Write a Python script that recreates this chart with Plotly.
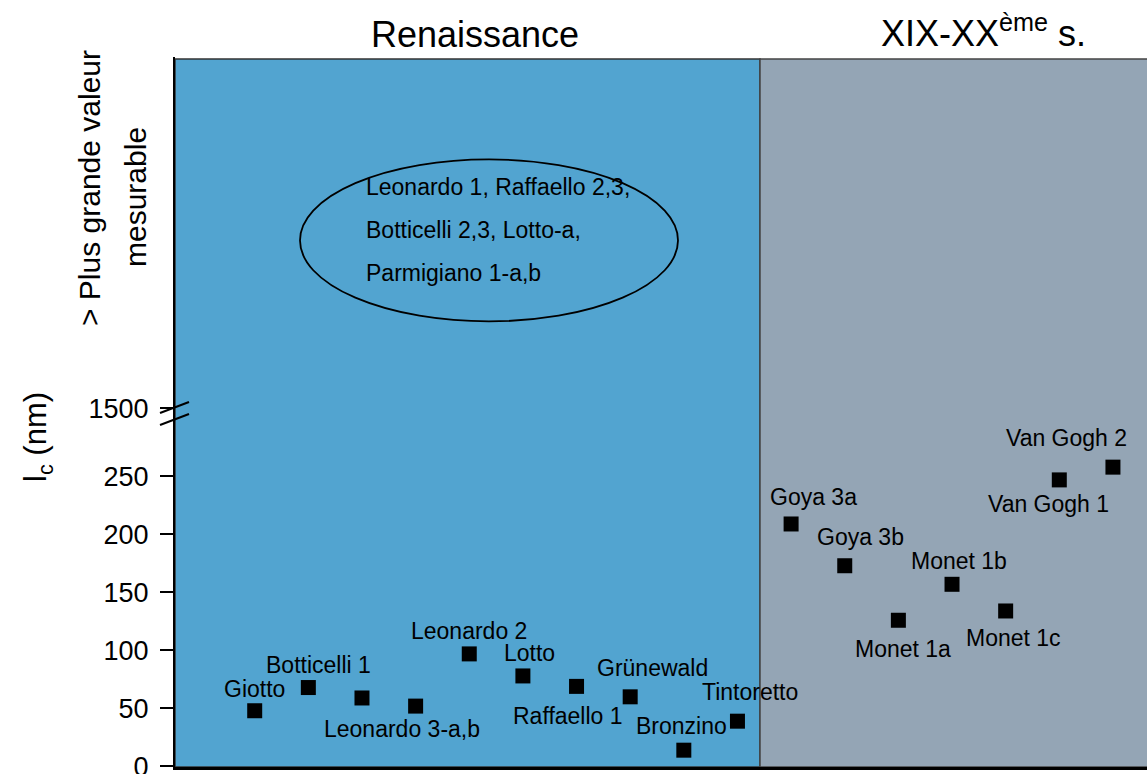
import plotly.graph_objects as go

# ---- data ----
painters = ["Giotto", "Botticelli 1", "Leonardo 3-a", "Leonardo 3-b", "Leonardo 2", "Lotto",
            "Raffaello 1", "Grünewald", "Bronzino", "Tintoretto",
            "Goya 3a", "Goya 3b", "Monet 1a", "Monet 1b", "Monet 1c", "Van Gogh 1", "Van Gogh 2"]
lc_nm = [48, 68, 59, 52, 97, 78, 69, 60, 14, 39,
         209, 173, 126, 157, 134, 247, 258]
point_labels = ["Giotto", "Botticelli 1", "", "Leonardo 3-a,b", "Leonardo 2", "Lotto",
                "Raffaello 1", "Grünewald", "Bronzino", "Tintoretto",
                "Goya 3a", "Goya 3b", "Monet 1a", "Monet 1b", "Monet 1c", "Van Gogh 1", "Van Gogh 2"]
ytick_vals = [0, 50, 100, 150, 200, 250]
ytick_text = ["0", "50", "100", "150", "200", "250"]
break_label = "1500"
periods = ["Renaissance", "XIX-XX<sup>ème</sup> s."]
off_scale_works = ["Leonardo 1, Raffaello 2,3,", "Botticelli 2,3, Lotto-a,", "Parmigiano 1-a,b"]

# ---- styling (label offsets in px: dx, dy up) ----
label_offsets = [(0, 22), (10, 23), (0, 0), (-14, -23), (0, 23), (7, 23),
                 (-9, -30), (22, 29), (-2, 24), (13, 29),
                 (22, 27), (16, 29), (5, -29), (7, 23), (8, -27), (-11, -24), (-46, 29)]

W, H = 1147, 774
ML, MR, MT, MB = 175, 0, 57, 7
PX_PER_UNIT = 1.16
X0_PX, DX_PX = 254.7, 53.64
Y_PAD = 0.5  # small pad below zero so the "0" label is kept
plot_w = W - ML - MR
plot_h = H - MT - MB
y_lo = -Y_PAD
y_top = plot_h / PX_PER_UNIT - Y_PAD
x_lo = (ML - X0_PX) / DX_PX
x_hi = (W - MR - X0_PX) / DX_PX
x_div = (760 - X0_PX) / DX_PX
y_break = (767 - 409) / PX_PER_UNIT
y_panel_top = (767 - 59.5) / PX_PER_UNIT

def px_x(px):
    return (px - ML) / plot_w

def px_y(py):
    return (H - MB - py) / plot_h

xs = list(range(len(painters)))
FONT = "Liberation Sans, Arial, sans-serif"
LABEL_SIZE = 23

fig = go.Figure()
fig.add_trace(go.Scatter(
    x=xs, y=lc_nm, mode="markers",
    marker=dict(symbol="square", size=15, color="black"),
    hoverinfo="text", text=painters, showlegend=False))

annotations = []
for x, y, lab, (dx, dy) in zip(xs, lc_nm, point_labels, label_offsets):
    if not lab:
        continue
    annotations.append(dict(x=x, y=y, xref="x", yref="y", text=lab, showarrow=False,
                            xanchor="center", yanchor="middle",
                            xshift=dx, yshift=dy,
                            font=dict(size=LABEL_SIZE, color="black", family=FONT)))

def paper_note(px, py, text, size, angle=0, xanchor="center"):
    return dict(x=px_x(px), y=px_y(py), xref="paper", yref="paper", text=text,
                showarrow=False, xanchor=xanchor, yanchor="middle", textangle=angle,
                font=dict(size=size, color="black", family=FONT))

# period titles
annotations.append(paper_note(475, 34, periods[0], 36))
annotations.append(paper_note(983, 31, periods[1], 36))
# ellipse texts
for i, t in enumerate(off_scale_works):
    annotations.append(paper_note(364, 187 + 43 * i, t, LABEL_SIZE, xanchor="left"))
# axis title and "max measurable"
annotations.append(paper_note(38, 437, "l<sub>c</sub> (nm)", 31, angle=-90))
annotations.append(paper_note(90, 188, "> Plus grande valeur", 30, angle=-90))
annotations.append(paper_note(136, 197, "mesurable", 30, angle=-90))

shapes = [
    dict(type="rect", xref="x", yref="y", x0=x_lo, x1=x_div, y0=y_lo, y1=y_panel_top,
         fillcolor="#52A4D0", line=dict(color="#333333", width=1.5), layer="below"),
    dict(type="rect", xref="x", yref="y", x0=x_div, x1=x_hi + 1, y0=y_lo, y1=y_panel_top,
         fillcolor="#94A5B5", line=dict(color="#444444", width=1.5), layer="below"),
    dict(type="circle", xref="x", yref="y",
         x0=(300 - X0_PX) / DX_PX, x1=(678 - X0_PX) / DX_PX,
         y0=(767 - 322) / PX_PER_UNIT, y1=(767 - 160) / PX_PER_UNIT,
         line=dict(color="black", width=1.8), layer="below"),
    # axis break marks
    dict(type="line", xref="paper", yref="paper", x0=px_x(160), x1=px_x(189),
         y0=px_y(413), y1=px_y(402), line=dict(color="black", width=2)),
    dict(type="line", xref="paper", yref="paper", x0=px_x(160), x1=px_x(189),
         y0=px_y(425), y1=px_y(414), line=dict(color="black", width=2)),
]

fig.update_layout(
    width=W, height=H,
    margin=dict(l=ML, r=MR, t=MT, b=MB, autoexpand=False),
    paper_bgcolor="white", plot_bgcolor="white",
    annotations=annotations, shapes=shapes,
    font=dict(family=FONT, color="black"),
    xaxis=dict(range=[x_lo, x_hi], showgrid=False, zeroline=False, showticklabels=False,
               ticks="", showline=True, linecolor="black", linewidth=3, automargin=False),
    yaxis=dict(range=[y_lo, y_top], showgrid=False, zeroline=False,
               tickvals=ytick_vals + [y_break], ticktext=ytick_text + [break_label],
               ticks="outside", ticklen=13, tickwidth=2, tickcolor="black",
               ticklabelstandoff=6, ticklabeloverflow="allow", automargin=False,
               tickfont=dict(size=27, color="black", family=FONT),
               showline=True, linecolor="black", linewidth=2),
)

fig.write_html("out.html", config={"displayModeBar": False},
               post_script="document.body.style.margin='0px';document.body.style.overflow='hidden';")
